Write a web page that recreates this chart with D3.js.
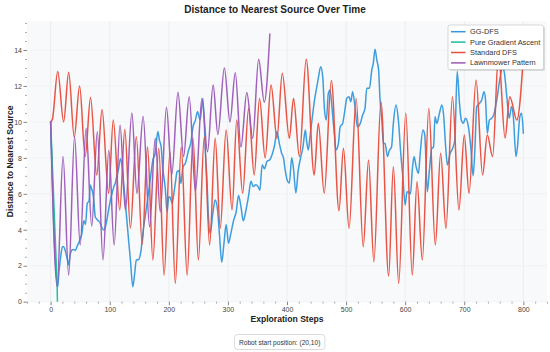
<!DOCTYPE html>
<html>
<head>
<meta charset="utf-8">
<script src="https://cdn.jsdelivr.net/npm/d3@7"></script>
<style>
  html, body { margin: 0; padding: 0; background: #ffffff; }
  svg { display: block; font-family: "Liberation Sans", Arial, Helvetica, sans-serif; }
</style>
</head>
<body>
<svg id="chart" width="550" height="352"></svg>
<script>
// ---------------- DATA ----------------
const seriesNames = ["GG-DFS", "Pure Gradient Ascent", "Standard DFS", "Lawnmower Pattern"];
const seriesColors = ["#3498db", "#1abc9c", "#e74c3c", "#9b59b6"];

const xTicks = [0, 100, 200, 300, 400, 500, 600, 700, 800];
const yTicks = [0, 2, 4, 6, 8, 10, 12, 14];

// GG-DFS
const ggdfsSteps = [0,12,14,17,20,22,25,28,30.5,33,36,39,42,45,48,50,53,56,59,62,65,67,69,71,73,75.5,78,81,84,87,90,93,96,98,101,104,107,109.5,112,115,118,121,124,129,132,135,139,142,145,149,153,156,160,164,168.5,173,177,181.5,184,187,189.5,194,197,200,202.5,205.5,208,211,214,217,220.5,224,228,233.5,237,241,245,248.5,253,257.5,260,262,264.5,267,270,274.5,278.5,282.5,286,289.5,293.5,297,301,305,309.5,314,318,322,326,330,335,339,343,347,351,354,358,362,366,371,375,379,383,387,391,394,397,401,404,408,411,415,419,423,427,431,433,436,439,443,446.5,450.5,453,457,460.5,463.5,466.5,470,473,476,480,483,487,490,494,498,501,505,508,511,515,519,524,528,532,535,539.5,543.5,546,549,552,555,557.5,560.5,563,566,570,573,577,580,584.5,588.5,592.5,596,600,603,605.5,609,612,615,618.5,622.5,625,630,633,637.5,641,645,648,650.5,653.5,658,662,665,668.5,671.5,676,680,684,688,692,695,698.5,702,707,711,715,718,721,725,729.5,733.5,736,739,742.5,746.5,750,755,760.5,765,768,772,776,780,783,787.5,790,794,797,800];
const ggdfsDist = [10,0.83,1.6,2.5,3.06,3.06,2.8,2.4,2.05,2.6,2.87,2.9,2.85,3.1,3.3,3.5,3.8,4.5,4.3,5.47,5.6,6.49,6.3,6.1,5.66,4.73,4.6,4.5,4.36,4.1,3.99,4.2,4.7,5.1,5.6,6.03,6.4,6.6,7.0,7.4,7.95,7.5,6.4,4.54,3.4,2.32,0.83,1.5,2.32,2.35,2.87,3.8,4.73,5.66,6.77,7.88,8.25,9.46,9.0,8.62,7.51,6.3,5.0,5.84,5.8,5.47,5.9,6.58,7.23,7.3,6.58,7.51,7.7,8.44,8.8,9.73,10.1,10.57,10.1,11.3,10.0,8.25,6.77,4.73,3.8,4.92,5.66,5.1,3.6,2.2,3.3,4.3,3.25,3.8,4.5,5.0,5.9,5.3,4.5,5.0,5.9,6.7,6.4,6.5,6.4,6.2,7.6,7.4,7.8,7.9,8.2,8.7,9.46,8.8,8.25,8.0,7.3,6.7,6.6,8.0,7.4,6.05,7.3,8.0,8.6,9.55,9.0,8.44,9.2,10.3,11.2,11.96,12.43,13.07,12.5,10.66,10.1,11.6,11.78,10.85,9.37,8.44,8.81,9.73,9.9,10.66,11.3,11.4,11.12,11.68,10.85,9.73,9.92,10.38,10.75,11.87,11.87,12.89,13.26,14.04,13.44,12.89,11.22,10.1,8.81,8.8,8.07,8.4,8.62,9.92,10.94,10.1,8.25,6.95,5.38,6.1,6.12,6.0,7.32,8.07,7.51,7.14,8.07,9.55,9.3,6.12,7.32,8.53,8.6,10.29,9.92,10.48,10.94,10.4,8.62,7.6,8.25,8.5,8.99,12.8,11.0,10.1,9.92,10.2,9.73,8.6,7.0,8.5,10.85,11.0,11.22,11.68,11.2,9.37,10.1,10.2,10.4,11.22,12.43,13.07,12.7,11.4,10.2,10.85,10.3,8.07,8.6,10.29,10.48,9.37];

// Pure Gradient Ascent
const gradientSteps = [0, 11, 11.5];
const gradientDist = [10, 0.85, 0];

// Standard DFS
const dfsSteps = [0,3,12,22,30.5,40,49,58.5,67.5,78,87,98,106,117,125.5,135,145,155,164,173,183,192,202,211,221,231,241,250,260,269,278.5,287,297,307,315,325,335,344.5,353.5,363,373,383,392,404,411,421,432.5,446,453,463,475,488,495.5,505,517,529,538,547,559,572,580,589,601,612,620,629,640,651,660,669,680,691,700,708,720,731,739,748,758,769,777,789,800];
const dfsDist = [10,10.15,12.8,10.0,12.76,9.15,12.0,8.07,11.36,7.05,10.69,6.03,10.1,5.1,9.57,4.08,9.18,3.2,8.62,2.32,8.53,1.48,8.34,1.02,8.6,1.48,9.09,2.32,9.18,3.15,9.09,4.08,9.55,5.1,10.1,6.03,10.75,7.05,11.3,8.0,12.05,9.09,12.7,9.09,11.3,8.07,13.48,7.05,9.92,6.03,12.3,5.06,8.53,4.08,11.3,3.06,7.88,2.22,11.12,1.43,7.5,1.02,10.48,1.48,6.67,2.32,10.75,3.15,8.25,4.08,11.4,5.1,9.27,6.03,12.33,7.05,9.27,8.07,13.8,9.1,11.4,10.1,13.6];

// Lawnmower Pattern
const mowerSteps = [0,11,21,30.5,40.5,50,60,69.5,79,88.5,98.5,107.5,117.5,126.5,137.5,146,156.5,167.5,177,185.5,196,205,215.5,225,234.5,245,256,265.5,275,283,294,303.5,312.5,322,332,342,352,361.5,371];
const mowerDist = [10,0.85,8.07,1.48,9.18,3.15,9.64,4.2,9.45,2.32,8.42,3.15,9.83,5.1,10.5,6.03,10.3,4.17,9.09,5.0,10.81,7.05,11.65,8.07,11.4,6.12,11.3,8.34,12.05,9.3,13.0,10.0,12.74,8.6,11.63,9.09,13.48,11.1,14.89];

const noteText = "Robot start position: (20,10)";

// ---------------- CHART ----------------
const svg = d3.select("#chart");
const W = 550, H = 352;
const plotL = 27, plotR = 547, plotT = 21.2, plotB = 301.7;

const x = d3.scaleLinear().domain([-40, 840]).range([plotL, plotR]);
const y = d3.scaleLinear().domain([0, 15.6]).range([plotB, plotT]);

// plot background
svg.append("rect")
  .attr("x", plotL).attr("y", plotT)
  .attr("width", plotR - plotL).attr("height", plotB - plotT)
  .attr("fill", "#f8f9fa");

// grid
const grid = svg.append("g");
grid.selectAll("line.vx").data(xTicks).join("line")
  .attr("x1", d => x(d)).attr("x2", d => x(d))
  .attr("y1", plotT).attr("y2", plotB)
  .attr("stroke", "#e4e6e8").attr("stroke-width", 0.6);
grid.selectAll("line.hy").data(yTicks).join("line")
  .attr("x1", plotL).attr("x2", plotR)
  .attr("y1", d => y(d)).attr("y2", d => y(d))
  .attr("stroke", "#eceef0").attr("stroke-width", 0.6);

// minor ticks
const xMinor = d3.range(-40, 841, 20).filter(v => v % 100 !== 0);
const yMinor = d3.range(0, 15.51, 0.5).filter(v => v % 2 !== 0);

const xAxisMinor = svg.append("g").attr("transform", `translate(0,${plotB})`)
  .call(d3.axisBottom(x).tickValues(xMinor).tickSize(2).tickFormat(""));
xAxisMinor.select(".domain").remove();
xAxisMinor.selectAll("line").attr("stroke", "#777").attr("stroke-width", 0.6);

const yAxisMinor = svg.append("g").attr("transform", `translate(${plotL},0)`)
  .call(d3.axisLeft(y).tickValues(yMinor).tickSize(2).tickFormat(""));
yAxisMinor.select(".domain").remove();
yAxisMinor.selectAll("line").attr("stroke", "#777").attr("stroke-width", 0.6);

// major axes
const xAxis = svg.append("g").attr("transform", `translate(0,${plotB})`)
  .call(d3.axisBottom(x).tickValues(xTicks).tickSize(3.5).tickPadding(2).tickFormat(d3.format("d")));
xAxis.select(".domain").remove();
xAxis.selectAll("line").attr("stroke", "#666").attr("stroke-width", 0.8);
xAxis.selectAll("text").attr("fill", "#444").style("font-size", "7px")
  .style("font-family", "'Liberation Sans', Arial, sans-serif");

const yAxis = svg.append("g").attr("transform", `translate(${plotL},0)`)
  .call(d3.axisLeft(y).tickValues(yTicks).tickSize(3.5).tickPadding(1.5).tickFormat(d3.format("d")));
yAxis.select(".domain").remove();
yAxis.selectAll("line").attr("stroke", "#666").attr("stroke-width", 0.8);
yAxis.selectAll("text").attr("fill", "#444").style("font-size", "7px")
  .style("font-family", "'Liberation Sans', Arial, sans-serif");

// lines
const series = [
  { steps: ggdfsSteps, vals: ggdfsDist, curve: d3.curveMonotoneX },
  { steps: gradientSteps, vals: gradientDist, curve: d3.curveLinear },
  { steps: dfsSteps, vals: dfsDist, curve: d3.curveMonotoneX },
  { steps: mowerSteps, vals: mowerDist, curve: d3.curveMonotoneX }
];

const clip = svg.append("clipPath").attr("id", "plotclip").append("rect")
  .attr("x", plotL).attr("y", plotT).attr("width", plotR - plotL).attr("height", plotB - plotT);

const linesG = svg.append("g").attr("clip-path", "url(#plotclip)");
series.forEach((s, i) => {
  const pts = s.steps.map((st, j) => [st, s.vals[j]]);
  const line = d3.line().x(d => x(d[0])).y(d => y(d[1])).curve(s.curve);
  linesG.append("path")
    .datum(pts)
    .attr("d", line)
    .attr("fill", "none")
    .attr("stroke", seriesColors[i])
    .attr("stroke-width", 1.5)
    .attr("stroke-linejoin", "round")
    .attr("stroke-linecap", "round")
    .attr("opacity", 0.95);
});

// title
svg.append("text")
  .attr("x", 275).attr("y", 13)
  .attr("text-anchor", "middle")
  .attr("font-weight", "bold")
  .attr("font-size", "10px")
  .attr("fill", "#222")
  .text("Distance to Nearest Source Over Time");

// axis labels
svg.append("text")
  .attr("x", (plotL + plotR) / 2).attr("y", 322)
  .attr("text-anchor", "middle")
  .attr("font-weight", "bold")
  .attr("font-size", "8.6px")
  .attr("fill", "#222")
  .text("Exploration Steps");

svg.append("text")
  .attr("transform", `translate(12.5,${(plotT + plotB) / 2}) rotate(-90)`)
  .attr("text-anchor", "middle")
  .attr("font-weight", "bold")
  .attr("font-size", "8.6px")
  .attr("fill", "#222")
  .text("Distance to Nearest Source");

// legend
const lg = svg.append("g");
const lgX = 448, lgY = 25, lgW = 95.5, lgH = 44.5;
lg.append("rect").attr("x", lgX + 1.5).attr("y", lgY + 1.5).attr("width", lgW).attr("height", lgH)
  .attr("rx", 2).attr("fill", "#000").attr("opacity", 0.12);
lg.append("rect").attr("x", lgX).attr("y", lgY).attr("width", lgW).attr("height", lgH)
  .attr("rx", 2).attr("fill", "#ffffff").attr("stroke", "#c8c8c8").attr("stroke-width", 0.7);
seriesNames.forEach((name, i) => {
  const yy = lgY + 6.7 + i * 10.4;
  lg.append("line").attr("x1", lgX + 3).attr("x2", lgX + 17.5)
    .attr("y1", yy).attr("y2", yy)
    .attr("stroke", seriesColors[i]).attr("stroke-width", 1.5);
  lg.append("text").attr("x", lgX + 22).attr("y", yy)
    .attr("dominant-baseline", "central")
    .attr("font-size", "7.4px").attr("fill", "#333")
    .text(name);
});

// note box
const note = svg.append("g");
const noteCx = 279.7, noteCy = 342;
const noteT = note.append("text")
  .attr("x", noteCx).attr("y", noteCy)
  .attr("text-anchor", "middle")
  .attr("dominant-baseline", "central")
  .attr("font-size", "6.6px").attr("fill", "#333")
  .text(noteText);
const bb = noteT.node().getBBox();
note.insert("rect", "text")
  .attr("x", bb.x - 4.5).attr("y", noteCy - 7.5)
  .attr("width", bb.width + 9).attr("height", 15)
  .attr("rx", 3).attr("fill", "#ffffff")
  .attr("stroke", "#cccccc").attr("stroke-width", 0.7);
</script>
</body>
</html>
